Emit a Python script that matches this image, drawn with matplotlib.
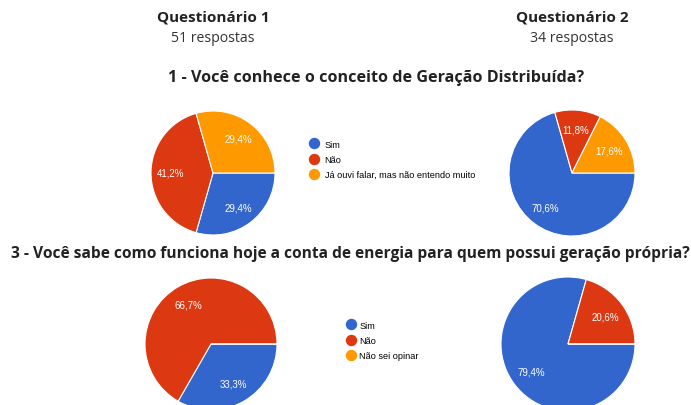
import matplotlib
matplotlib.use("Agg")
import matplotlib.pyplot as plt
from matplotlib.lines import Line2D

W, H = 691, 406

# colours used by google forms charts
colors = ['#3366cc', '#dc3912', '#ff9900']

q1_labels = ['Sim', 'Não', 'Já ouvi falar, mas não entendo muito']
q1_form1 = [29.4, 41.2, 29.4]
q1_form2 = [70.6, 11.8, 17.6]

q3_labels = ['Sim', 'Não', 'Não sei opinar']
q3_form1 = [33.3, 66.7, 0.0]
q3_form2 = [79.4, 20.6, 0.0]

form_names = ['Questionário 1', 'Questionário 2']
form_counts = ['51 respostas', '34 respostas']

title_q1 = '1 - Você conhece o conceito de Geração Distribuída?'
title_q3 = '3 - Você sabe como funciona hoje a conta de energia para quem possui geração própria?'

fig = plt.figure(figsize=(W / 100, H / 100), dpi=100)
fig.patch.set_facecolor('white')


def pct(p):
    if p < 0.05:
        return ''
    return ('%.1f%%' % p).replace('.', ',')


def pieAt(cx, cy, r, vals):
    # axes placed in pixel space, pie fills it
    ax = fig.add_axes([(cx - r) / W, (H - cy - r) / H, 2 * r / W, 2 * r / H])
    ax.pie(vals, colors=colors, startangle=0, counterclock=False,
           autopct=pct, pctdistance=0.69,
           wedgeprops=dict(edgecolor='white', linewidth=0.8),
           textprops=dict(color='white', fontsize=7, family='Liberation Sans'))
    ax.set_xlim(-1, 1)
    ax.set_ylim(-1, 1)
    ax.set_aspect('auto')
    ax.axis('off')
    return ax


def legendAt(x, y, labels, pad):
    handles = [Line2D([], [], marker='o', linestyle='none', markersize=7.2,
                      markerfacecolor=c, markeredgecolor=c) for c in colors]
    fig.legend(handles, labels, loc='upper left',
               bbox_to_anchor=(x / W, 1 - y / H), frameon=False,
               prop=dict(family='Liberation Sans', size=6.6),
               handletextpad=pad, labelspacing=0.68, borderpad=0,
               handlelength=1.2)


bold = dict(family='Open Sans', weight='bold', color='#222222')
reg = dict(family='Open Sans', color='#333333')

for x, name, cnt in zip([213, 572], form_names, form_counts):
    fig.text(x / W, 1 - 18 / H, name, ha='center', va='center', fontsize=11, **bold)
    fig.text(x / W, 1 - 38 / H, cnt, ha='center', va='center', fontsize=10.1, **reg)

fig.text(376 / W, 1 - 78 / H, title_q1, ha='center', va='center', fontsize=11.6, **bold)
fig.text(350 / W, 1 - 254 / H, title_q3, ha='center', va='center', fontsize=11.2, **bold)

pieAt(213, 174, 62, q1_form1)
pieAt(572, 174, 63, q1_form2)
pieAt(211, 345, 66, q3_form1)
pieAt(568, 345, 67, q3_form2)

legendAt(304, 136, q1_labels, 0.55)
legendAt(341, 317, q3_labels, 0.3)

fig.savefig('out.png', dpi=100, facecolor='white')
